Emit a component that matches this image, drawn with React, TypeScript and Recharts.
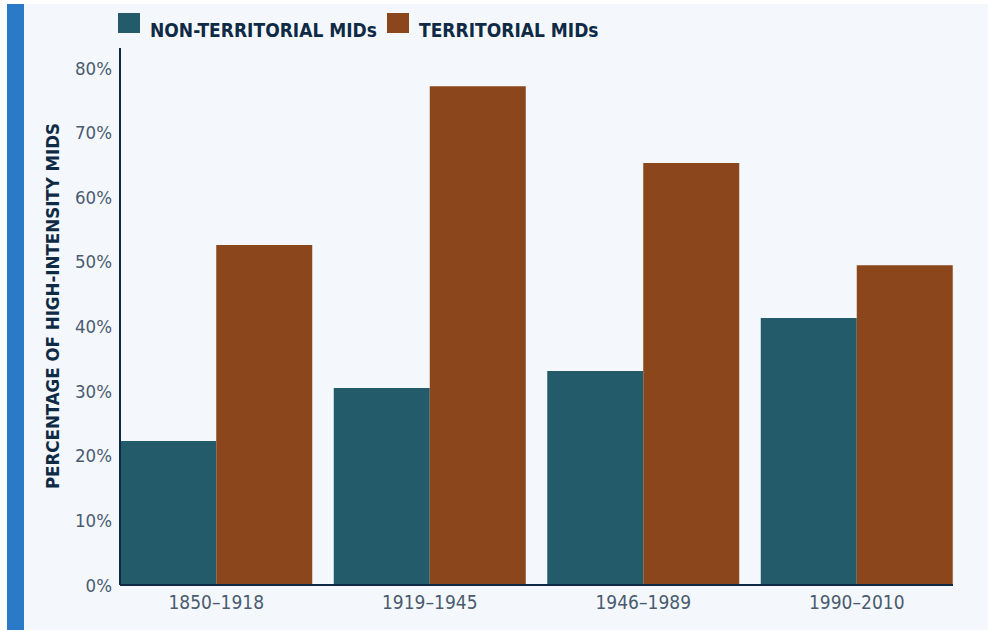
import React from 'react';
import { BarChart, Bar, XAxis, YAxis } from 'recharts';

const periods = ['1850–1918', '1919–1945', '1946–1989', '1990–2010'];
const nonTerritorial = [22.3, 30.5, 33.1, 41.3];
const territorial = [52.6, 77.2, 65.3, 49.5];
const yTicks = [0, 10, 20, 30, 40, 50, 60, 70, 80];

const seriesNames = ['NON-TERRITORIAL MIDs', 'TERRITORIAL MIDs'];
const TEAL = '#245b6b';
const BROWN = '#8b461b';
const NAVY = '#0f2a45';
const FONT = "'DejaVu Sans Condensed', 'Liberation Sans Narrow', Roboto, sans-serif";

const data = periods.map((p, i) => ({
  period: p,
  nonTerritorial: nonTerritorial[i],
  territorial: territorial[i],
}));

const YTitle = () => (
  <text
    x={52}
    y={306}
    transform="rotate(-90, 52, 306)"
    textAnchor="middle"
    dominantBaseline="central"
    fill={NAVY}
    fontSize={18.5}
    fontWeight={700}
    fontFamily={FONT}
  >
    PERCENTAGE OF HIGH-INTENSITY MIDS
  </text>
);

const legendText: React.CSSProperties = {
  position: 'absolute',
  top: 20,
  fontFamily: FONT,
  fontSize: 19,
  fontWeight: 700,
  color: NAVY,
  whiteSpace: 'nowrap',
  lineHeight: '20px',
};

export default function App() {
  return (
    <div style={{ position: 'absolute', left: 0, top: 0, width: 988, height: 630, background: '#ffffff', overflow: 'hidden' }}>
      <div style={{ position: 'absolute', left: 7, top: 4, width: 981, height: 626, background: '#f4f8fc' }} />
      <div style={{ position: 'absolute', left: 7, top: 4, width: 17, height: 626, background: '#2a7ac8' }} />

      {/* legend */}
      <div style={{ position: 'absolute', left: 118, top: 13, width: 22, height: 20, background: TEAL }} />
      <div style={{ ...legendText, left: 150 }}>{seriesNames[0]}</div>
      <div style={{ position: 'absolute', left: 387, top: 13, width: 22, height: 20, background: BROWN }} />
      <div style={{ ...legendText, left: 419 }}>{seriesNames[1]}</div>

      <div style={{ position: 'absolute', left: 0, top: 0 }}>
        <BarChart
          width={988}
          height={630}
          data={data}
          margin={{ top: 48, right: 35, bottom: 15, left: 0 }}
          barGap={0}
          barCategoryGap={10.75}
        >
          <XAxis
            dataKey="period"
            height={30}
            padding={{ left: -10.5, right: -10.5 }}
            axisLine={{ stroke: NAVY, strokeWidth: 2 }}
            tickLine={false}
            tickSize={0}
            tickMargin={11}
            tick={{ fill: '#4a5b70', fontSize: 19, fontFamily: FONT }}
          />
          <YAxis
            width={120}
            domain={[0, 83.1]}
            ticks={yTicks}
            tickFormatter={(v: number) => `${v}%`}
            axisLine={{ stroke: NAVY, strokeWidth: 2 }}
            tickLine={false}
            tickSize={0}
            tickMargin={8}
            tick={{ fill: '#4a5b70', fontSize: 18.5, fontFamily: FONT }}
            label={{ content: <YTitle /> }}
          />
          <Bar dataKey="nonTerritorial" name={seriesNames[0]} fill={TEAL} isAnimationActive={false} />
          <Bar dataKey="territorial" name={seriesNames[1]} fill={BROWN} isAnimationActive={false} />
        </BarChart>
      </div>
    </div>
  );
}
